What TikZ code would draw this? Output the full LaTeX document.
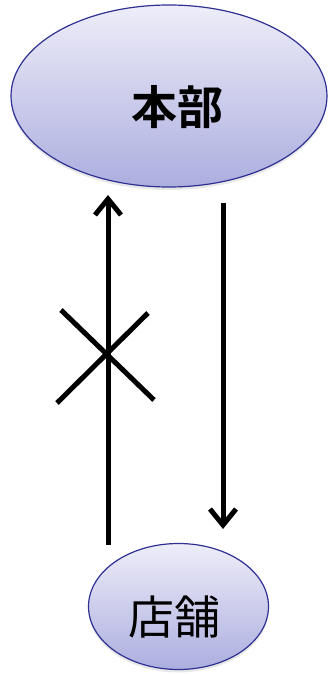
\documentclass[tikz,border=0pt]{standalone}
\usepackage{fontspec}
\newfontfamily\cjk{Noto Sans CJK JP}
\newfontfamily\cjkbold{Noto Sans CJK JP Bold}
\usetikzlibrary{arrows.meta, shapes.geometric, shadows}
\definecolor{edgeblue}{HTML}{2E3192}
\definecolor{filltop}{HTML}{EEEDF9}
\definecolor{fillbot}{HTML}{ACAEDF}
\tikzset{
    oval/.style={ellipse, draw=edgeblue, line width=1.2pt, top color=filltop, bottom color=fillbot,
        inner sep=0pt, drop shadow={opacity=0.18, shadow xshift=0pt, shadow yshift=-3pt}},
    flow/.style={line width=5pt, -{Straight Barb[length=16pt, width=26pt, line width=5pt]}},
    cross/.style={line width=5pt}
}
\begin{document}
\begin{tikzpicture}[x=1pt, y=-1pt]
    \useasboundingbox (0,0) rectangle (328,674);
    \node[oval, minimum width=316pt, minimum height=182pt] (hq) at (169,96) {};
    \node[font=\cjkbold\fontsize{46}{46}\selectfont] (hqtext) at (177,107) {本部};
    \node[oval, minimum width=180pt, minimum height=126pt] (store) at (178.5,606.5) {};
    \node[font=\cjk\fontsize{46}{46}\selectfont] (storetext) at (174,617) {店舗};

    \coordinate (upfrom) at (108,545);
    \coordinate (upto) at (108,195);
    \coordinate (downfrom) at (223,203);
    \coordinate (downto) at (223,529);
    \draw[flow] (upfrom) -- (upto);
    \draw[flow] (downfrom) -- (downto);

    % the crossed-out mark on the upward arrow
    \coordinate (xa) at (61,310);
    \coordinate (xb) at (154,400);
    \coordinate (xc) at (57,403);
    \coordinate (xd) at (148,313);
    \draw[cross] (xa) -- (xb);
    \draw[cross] (xc) -- (xd);
\end{tikzpicture}
\end{document}
